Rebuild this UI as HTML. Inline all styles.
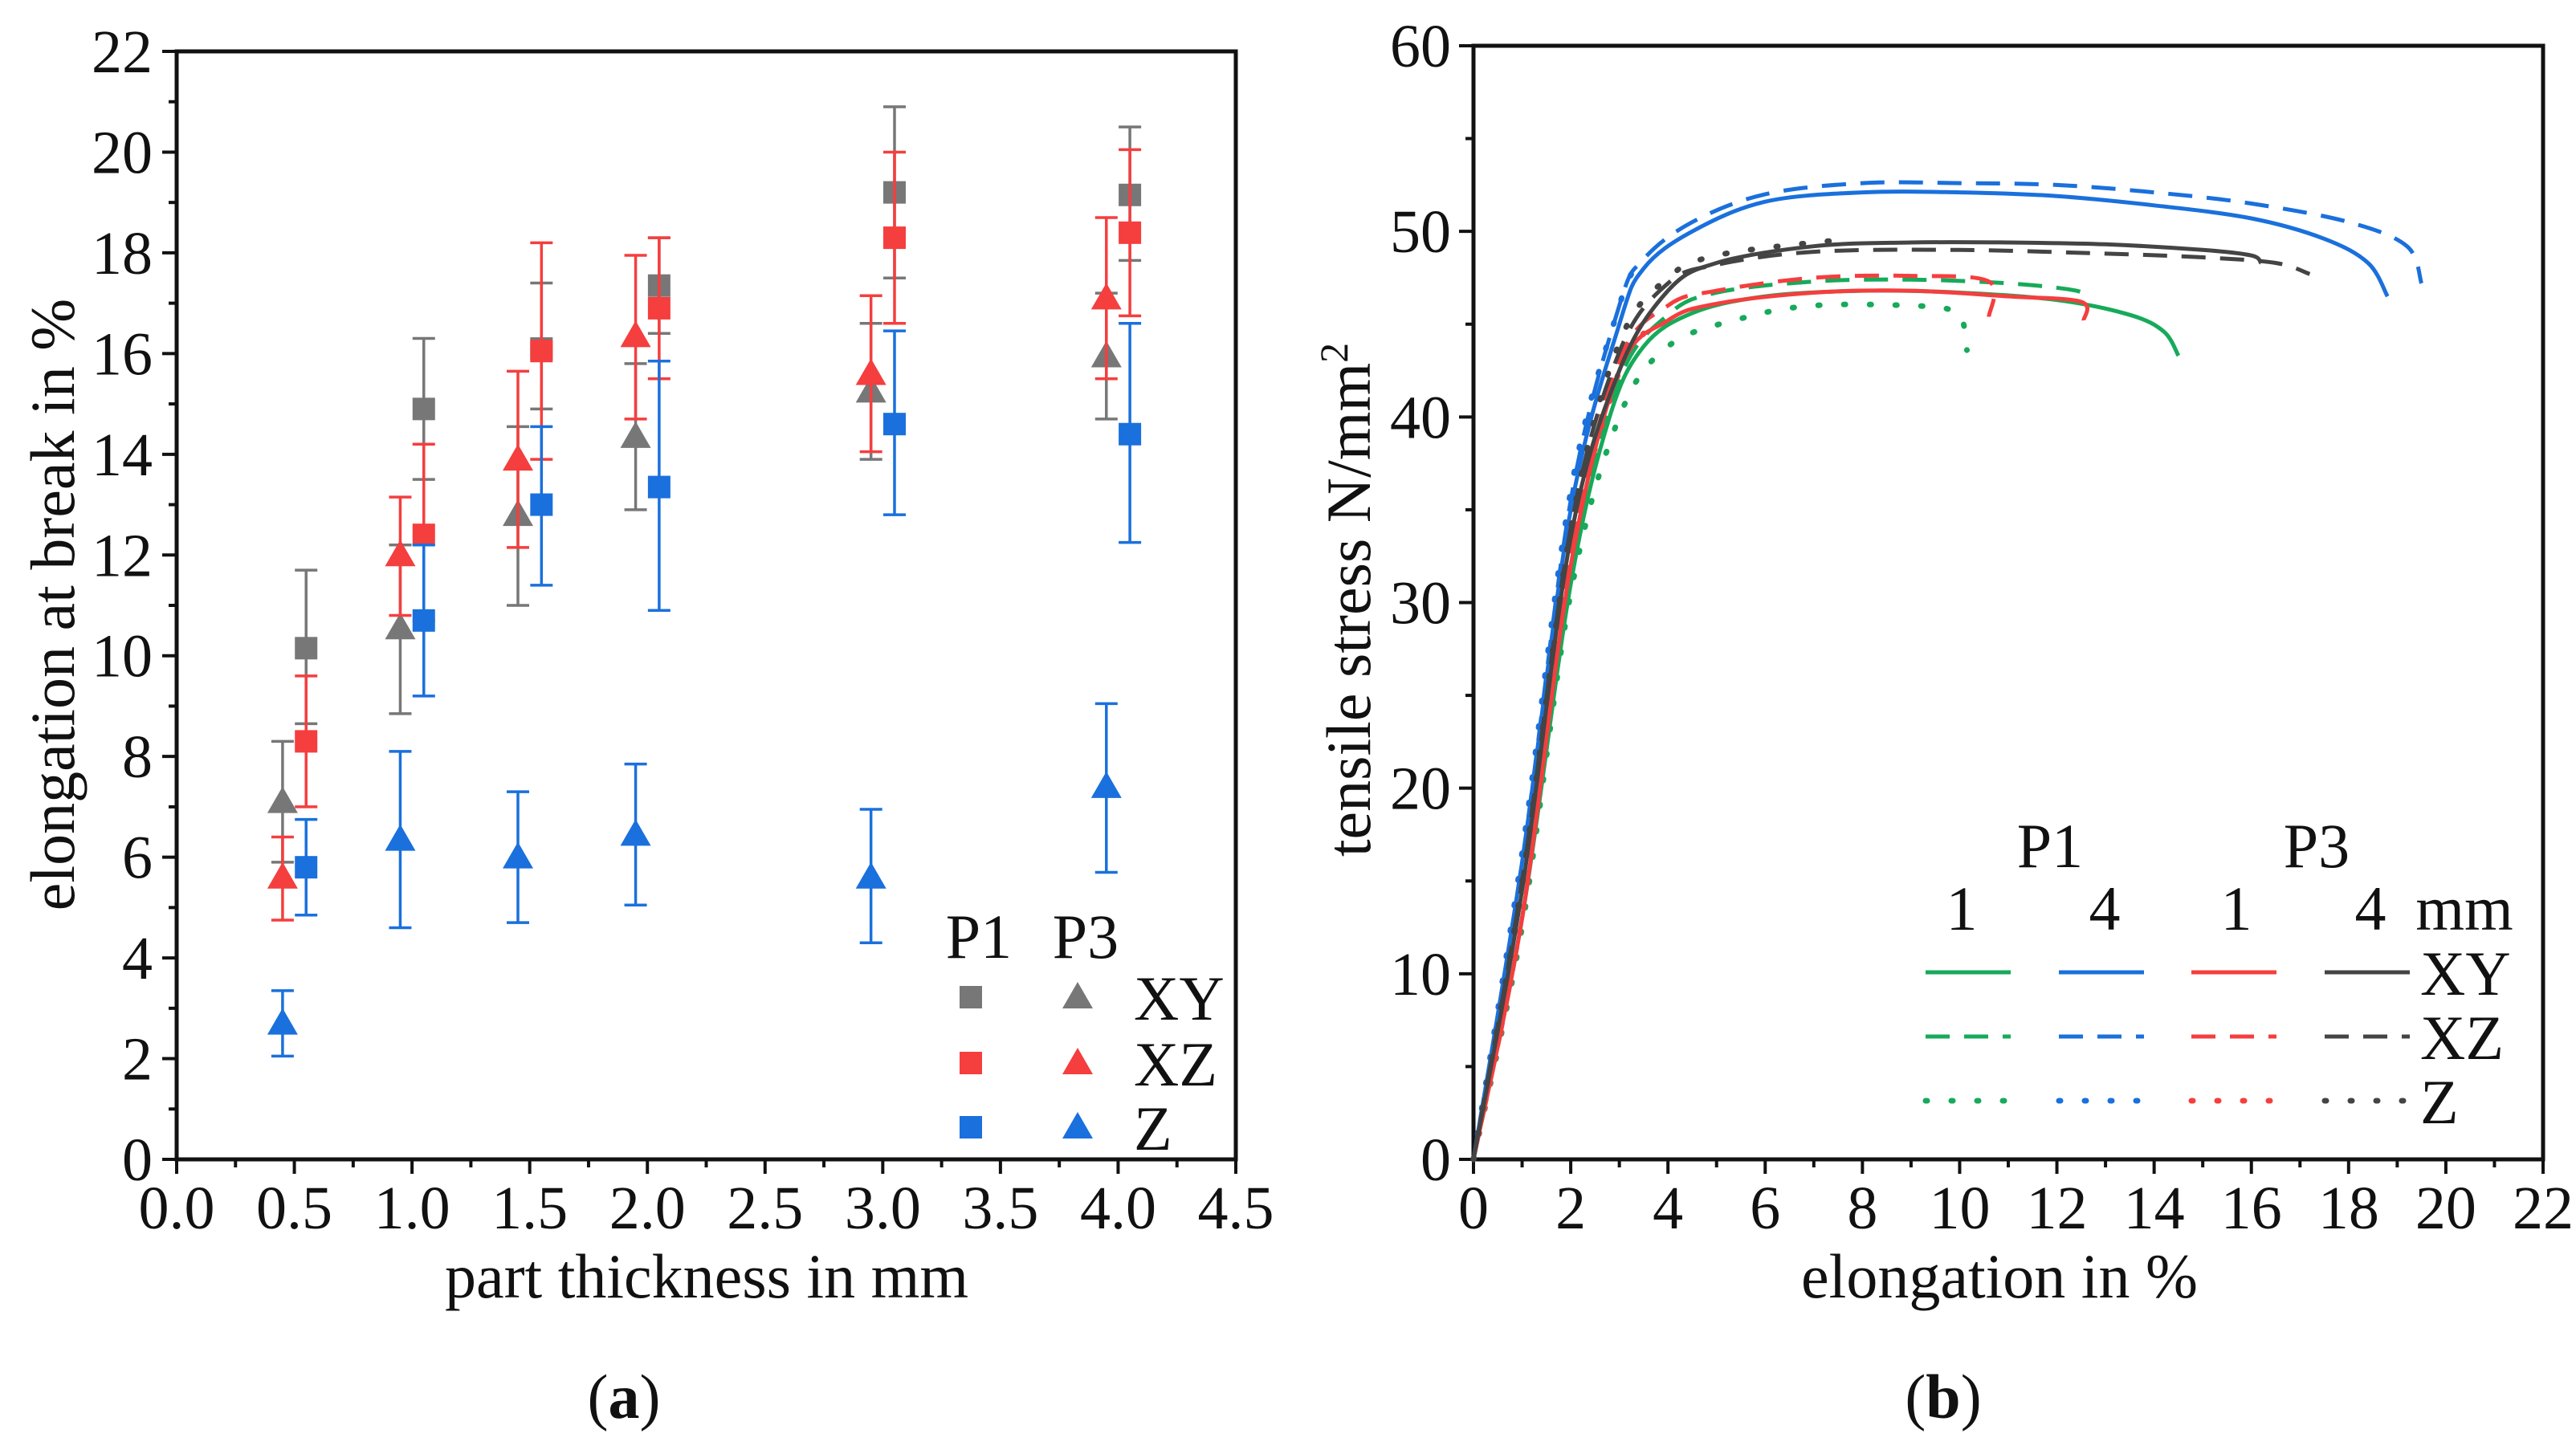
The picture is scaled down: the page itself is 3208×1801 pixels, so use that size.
<!DOCTYPE html>
<html><head><meta charset="utf-8"><style>
html,body{margin:0;padding:0;background:#fff}
svg{display:block}
text{font-family:"Liberation Serif",serif;fill:#111}
</style></head><body>
<svg id="fig" width="3208" height="1801" viewBox="0 0 3208 1801" xmlns="http://www.w3.org/2000/svg">
<g id="pa"></g>
<g id="pb"></g>
</svg>
<script>
// ---------- Panel (a) data ----------
const thickness = [0.5, 1.0, 1.5, 2.0, 3.0, 4.0];
const xTicksA = ["0.0","0.5","1.0","1.5","2.0","2.5","3.0","3.5","4.0","4.5"];
const yTicksA = [0,2,4,6,8,10,12,14,16,18,20,22];
const xyP1 = [10.15,14.9,16.1,17.35,19.2,19.15];
const xyP1Lo = [8.65,13.5,14.9,16.4,17.5,17.85];
const xyP1Hi = [11.7,16.3,17.4,18.3,20.9,20.5];
const xzP1 = [8.3,12.4,16.05,16.9,18.3,18.4];
const xzP1Lo = [7.0,10.7,13.9,15.5,16.6,16.75];
const xzP1Hi = [9.6,14.2,18.2,18.3,20.0,20.05];
const zP1 = [5.8,10.7,13.0,13.35,14.6,14.4];
const zP1Lo = [4.85,9.2,11.4,10.9,12.8,12.25];
const zP1Hi = [6.75,12.2,14.55,15.85,16.45,16.6];
const xyP3 = [7.1,10.55,12.8,14.35,15.25,15.95];
const xyP3Lo = [5.9,8.85,11.0,12.9,13.9,14.7];
const xyP3Hi = [8.3,12.2,14.55,15.8,16.6,17.2];
const xzP3 = [5.6,12.0,13.9,16.35,15.6,17.1];
const xzP3Lo = [4.75,10.8,12.15,14.7,14.05,15.5];
const xzP3Hi = [6.4,13.15,15.65,17.95,17.15,18.7];
const zP3 = [2.7,6.35,6.0,6.45,5.6,7.4];
const zP3Lo = [2.05,4.6,4.7,5.05,4.3,5.7];
const zP3Hi = [3.35,8.1,7.3,7.85,6.95,9.05];

// ---------- Panel (b) data ----------
const xTicksB = [0,2,4,6,8,10,12,14,16,18,20,22];
const yTicksB = [0,10,20,30,40,50,60];
const p1t1XY = [[0,0],[1,13],[2,31],[2.8,40],[3.5,43.8],[4.5,45.6],[6,46.5],[8,46.8],[10,46.7],[12,46.3],[13.5,45.5],[14.2,44.6],[14.5,43.3]];
const p1t1XZ = [[0,0],[1,13],[2,32],[3,42],[4,45.5],[5,46.7],[7,47.3],[9,47.4],[11,47.2],[12.4,46.8],[12.6,46.3]];
const p1t1Z = [[0,0],[1,12.5],[2,30.5],[3,40],[4,43.8],[5.5,45.3],[7,46],[9,46],[9.9,45.7],[10.1,44.8],[10.15,43.6]];
const p1t4XY = [[0,0],[1,16],[2,35],[3,45],[3.5,48],[4.5,50],[6,51.6],[8,52.1],[10,52.1],[12,51.9],[14,51.4],[16,50.7],[17.5,49.6],[18.4,48.3],[18.8,46.5]];
const p1t4XZ = [[0,0],[1,16],[2,35.5],[3,46],[3.5,48.5],[4.5,50.5],[6,52],[8,52.6],[10,52.6],[12,52.5],[14,52.1],[16,51.5],[18,50.5],[19.2,49.2],[19.5,47.2]];
const p1t4Z = [[0,0],[1,16.5],[2,36],[3,46],[3.4,48.3]];
const p3t1XY = [[0,0],[1,13],[2,32],[3,42.5],[4,45.2],[5,46.1],[7,46.7],[9,46.8],[11,46.5],[12.5,46.2],[12.55,45.2]];
const p3t1XZ = [[0,0],[1,13],[2,32.5],[3,43],[4,46],[5,46.8],[7,47.5],[9,47.6],[10.6,47.3],[10.6,45.4]];
const p3t1Z = [[0,0],[1,13],[2,32.5],[3,42.5],[3.5,44.5]];
const p3t4XY = [[0,0],[1,14.5],[2,33.5],[3,42.5],[4,46.8],[5,48.3],[7,49.2],[9,49.4],[11,49.4],[13,49.3],[15,49],[16,48.7],[16.2,48.3]];
const p3t4XZ = [[0,0],[1,15],[2,34],[3,43.5],[4,47.2],[5,48.2],[7,48.9],[10,49],[13,48.8],[15,48.6],[16.5,48.3],[17.2,47.7]];
const p3t4Z = [[0,0],[1,15],[2,34],[3,44],[4,47.5],[5,48.7],[7,49.4],[7.6,49.5]];

const NS="http://www.w3.org/2000/svg";
function mk(parent,tag,attrs,txt){const e=document.createElementNS(NS,tag);for(const k in attrs)e.setAttribute(k,attrs[k]);if(txt!==undefined)e.textContent=txt;parent.appendChild(e);return e;}

const GRAY="#777",RED="#f53e3e",BLUE="#1a70dc",GREEN="#16aa5a",DARK="#444";
const FS=76, TFS=78;

// ---- Panel A ----
const A={l:220,r:1539,t:64,b:1444,xmax:4.5,ymax:22};
const ax=v=>A.l+(v/A.xmax)*(A.r-A.l);
const ay=v=>A.b-(v/A.ymax)*(A.b-A.t);
const pa=document.getElementById('pa');
let r=mk(pa,'rect',{x:A.l,y:A.t,width:A.r-A.l,height:A.b-A.t,fill:'none',stroke:'#111','stroke-width':5});


xTicksA.forEach((lab,i)=>{const v=i*0.5,x=ax(v);
 mk(pa,'line',{x1:x,y1:A.b,x2:x,y2:A.b+18,stroke:'#111','stroke-width':4});
 if(i<xTicksA.length-1){const xm=ax(v+0.25);mk(pa,'line',{x1:xm,y1:A.b,x2:xm,y2:A.b+10,stroke:'#111','stroke-width':4});}
 const t=mk(pa,'text',{x:x,y:1530,'font-size':FS,'text-anchor':'middle'},lab);
 
 
});
yTicksA.forEach((v,i)=>{const y=ay(v);
 mk(pa,'line',{x1:A.l-18,y1:y,x2:A.l,y2:y,stroke:'#111','stroke-width':4});
 if(i<yTicksA.length-1){const ym=ay(v+1);mk(pa,'line',{x1:A.l-10,y1:ym,x2:A.l,y2:ym,stroke:'#111','stroke-width':4});}
 const t=mk(pa,'text',{x:A.l-30,y:y+26,'font-size':FS,'text-anchor':'end'},String(v));
 
 
});
let tt=mk(pa,'text',{x:880,y:1616,'font-size':TFS,'text-anchor':'middle'},'part thickness in mm');


tt=mk(pa,'text',{x:92,y:753,'font-size':TFS,'text-anchor':'middle',transform:'rotate(-90 92 753)'},'elongation at break in %');


tt=mk(pa,'text',{x:777,y:1766,'font-size':TFS,'text-anchor':'middle'});
tt.innerHTML='(<tspan font-weight="bold">a</tspan>)';



function marker(g,shape,x,y,color){
 if(shape==='sq') return mk(g,'rect',{x:x-14,y:y-14,width:28,height:28,fill:color});
 return mk(g,'polygon',{points:`${x},${y-19} ${x-19},${y+14} ${x+19},${y+14}`,fill:color});
}
const seriesA=[
 ['xy-p1',xyP1,xyP1Lo,xyP1Hi,GRAY,'sq',0.05],
 ['xz-p1',xzP1,xzP1Lo,xzP1Hi,RED,'sq',0.05],
 ['z-p1',zP1,zP1Lo,zP1Hi,BLUE,'sq',0.05],
 ['xy-p3',xyP3,xyP3Lo,xyP3Hi,GRAY,'tri',-0.05],
 ['xz-p3',xzP3,xzP3Lo,xzP3Hi,RED,'tri',-0.05],
 ['z-p3',zP3,zP3Lo,zP3Hi,BLUE,'tri',-0.05]];
seriesA.forEach(s=>{
 const g=mk(pa,'g',{});
 
 
 thickness.forEach((t,i)=>{
  const x=ax(t+s[6]);
  mk(g,'line',{x1:x,y1:ay(s[2][i]),x2:x,y2:ay(s[3][i]),stroke:s[4],'stroke-width':3.5});
  mk(g,'line',{x1:x-14,y1:ay(s[2][i]),x2:x+14,y2:ay(s[2][i]),stroke:s[4],'stroke-width':3.5});
  mk(g,'line',{x1:x-14,y1:ay(s[3][i]),x2:x+14,y2:ay(s[3][i]),stroke:s[4],'stroke-width':3.5});
  const m=marker(g,s[5],x,ay(s[1][i]),s[4]);
  
  
 });
});
// legend a
const lga=mk(pa,'g',{});


mk(lga,'text',{x:1219,y:1193,'font-size':TFS,'text-anchor':'middle'},'P1');
mk(lga,'text',{x:1352,y:1193,'font-size':TFS,'text-anchor':'middle'},'P3');
[['XY',GRAY,1242],['XZ',RED,1324],['Z',BLUE,1404]].forEach(e=>{
 const le=mk(lga,'g',{});
 
 
 marker(le,'sq',1209,e[2],e[1]);
 marker(le,'tri',1342,e[2],e[1]);
 mk(le,'text',{x:1412,y:e[2]+28,'font-size':TFS},e[0]);
});

// ---- Panel B ----
const B={l:1835,r:3167,t:57,b:1444,xmax:22,ymax:60};
const bx=v=>B.l+(v/B.xmax)*(B.r-B.l);
const by=v=>B.b-(v/B.ymax)*(B.b-B.t);
const pb=document.getElementById('pb');
r=mk(pb,'rect',{x:B.l,y:B.t,width:B.r-B.l,height:B.b-B.t,fill:'none',stroke:'#111','stroke-width':5});


xTicksB.forEach((v,i)=>{const x=bx(v);
 mk(pb,'line',{x1:x,y1:B.b,x2:x,y2:B.b+18,stroke:'#111','stroke-width':4});
 if(i<xTicksB.length-1){const xm=bx(v+1);mk(pb,'line',{x1:xm,y1:B.b,x2:xm,y2:B.b+10,stroke:'#111','stroke-width':4});}
 const t=mk(pb,'text',{x:x,y:1530,'font-size':FS,'text-anchor':'middle'},String(v));
 
 
});
yTicksB.forEach((v,i)=>{const y=by(v);
 mk(pb,'line',{x1:B.l-18,y1:y,x2:B.l,y2:y,stroke:'#111','stroke-width':4});
 if(i<yTicksB.length-1){const ym=by(v+5);mk(pb,'line',{x1:B.l-10,y1:ym,x2:B.l,y2:ym,stroke:'#111','stroke-width':4});}
 const t=mk(pb,'text',{x:B.l-28,y:y+26,'font-size':FS,'text-anchor':'end'},String(v));
 
 
});
tt=mk(pb,'text',{x:2490,y:1616,'font-size':TFS,'text-anchor':'middle'},'elongation in %');


tt=mk(pb,'text',{x:1706,y:747,'font-size':TFS,'text-anchor':'middle',transform:'rotate(-90 1706 747)'});
tt.innerHTML='tensile stress N/mm<tspan font-size="50" dy="-28">2</tspan>';


tt=mk(pb,'text',{x:2420,y:1766,'font-size':TFS,'text-anchor':'middle'});
tt.innerHTML='(<tspan font-weight="bold">b</tspan>)';



const DASH={solid:'none',dash:'30 18',dot:'2 30'};
function smoothPath(pts){
 const P=pts.map(p=>[bx(p[0]),by(p[1])]);
 let d='M'+P[0][0].toFixed(1)+','+P[0][1].toFixed(1);
 for(let i=0;i<P.length-1;i++){
  const p0=P[i-1]||P[i],p1=P[i],p2=P[i+1],p3=P[i+2]||p2;
  const c1=[p1[0]+(p2[0]-p0[0])/6,p1[1]+(p2[1]-p0[1])/6];
  const c2=[p2[0]-(p3[0]-p1[0])/6,p2[1]-(p3[1]-p1[1])/6];
  d+=` C${c1[0].toFixed(1)},${c1[1].toFixed(1)} ${c2[0].toFixed(1)},${c2[1].toFixed(1)} ${p2[0].toFixed(1)},${p2[1].toFixed(1)}`;
 }
 return d;
}
const curves=[
 ['p1-1mm-xy',p1t1XY,GREEN,'solid'],['p1-1mm-xz',p1t1XZ,GREEN,'dash'],['p1-1mm-z',p1t1Z,GREEN,'dot'],
 ['p1-4mm-xy',p1t4XY,BLUE,'solid'],['p1-4mm-xz',p1t4XZ,BLUE,'dash'],['p1-4mm-z',p1t4Z,BLUE,'dot'],
 ['p3-1mm-xy',p3t1XY,RED,'solid'],['p3-1mm-xz',p3t1XZ,RED,'dash'],['p3-1mm-z',p3t1Z,RED,'dot'],
 ['p3-4mm-xy',p3t4XY,DARK,'solid'],['p3-4mm-xz',p3t4XZ,DARK,'dash'],['p3-4mm-z',p3t4Z,DARK,'dot']];
curves.forEach(c=>{
 const p=mk(pb,'path',{d:smoothPath(c[1]),fill:'none',stroke:c[2],'stroke-width':c[3]==='dot'?7:5,'stroke-dasharray':DASH[c[3]],'stroke-linecap':c[3]==='dot'?'round':'butt','stroke-linejoin':'round'});
 
 
});
// legend b
const lgb=mk(pb,'g',{});


mk(lgb,'text',{x:2553,y:1080,'font-size':TFS,'text-anchor':'middle'},'P1');
mk(lgb,'text',{x:2885,y:1080,'font-size':TFS,'text-anchor':'middle'},'P3');
[['1',2443],['4',2621],['1',2785],['4',2952]].forEach(n=>mk(lgb,'text',{x:n[1],y:1158,'font-size':TFS,'text-anchor':'middle'},n[0]));
mk(lgb,'text',{x:3069,y:1158,'font-size':TFS,'text-anchor':'middle'},'mm');
const cols=[[2398,GREEN],[2564,BLUE],[2729,RED],[2895,DARK]];
[['XY','solid',1211],['XZ','dash',1291],['Z','dot',1371]].forEach(row=>{
 const le=mk(lgb,'g',{});
 
 
 cols.forEach(c=>mk(le,'line',{x1:c[0],y1:row[2],x2:c[0]+106,y2:row[2],stroke:c[1],'stroke-width':row[1]==='dot'?7:5,'stroke-dasharray':DASH[row[1]],'stroke-linecap':row[1]==='dot'?'round':'butt'}));
 mk(le,'text',{x:3014,y:row[2]+28,'font-size':TFS},row[0]);
});
</script>
</body></html>
